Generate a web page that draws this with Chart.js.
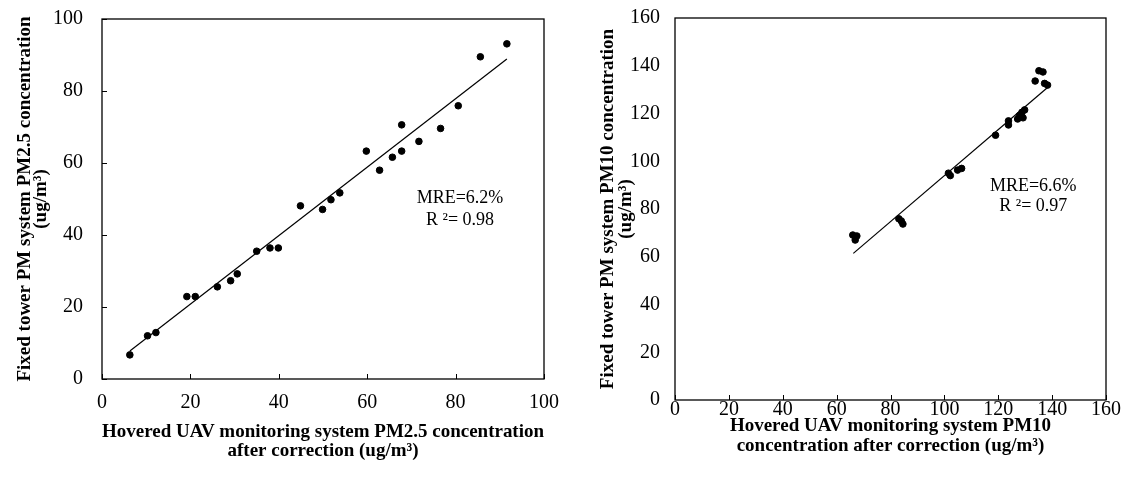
<!DOCTYPE html>
<html>
<head>
<meta charset="utf-8">
<script src="https://cdn.jsdelivr.net/npm/chart.js@4/dist/chart.umd.min.js"></script>
<style>
  body { margin: 0; background: #fff; }
  #wrap { position: relative; width: 1140px; height: 480px; }
  .box { position: absolute; top: 0; width: 570px; height: 480px; }
</style>
</head>
<body>
<div id="wrap">
  <div class="box" style="left:0"><canvas id="pm25"></canvas></div>
  <div class="box" style="left:570px"><canvas id="pm10"></canvas></div>
</div>
<script>
// --- data ---
const pm25X = [6.3, 10.3, 12.2, 19.2, 21.1, 26.1, 29.1, 30.6, 35.0, 38.0, 39.9, 44.9, 49.9, 51.8, 53.8,
  59.8, 62.8, 65.7, 67.8, 67.8, 71.7, 76.6, 80.6, 85.6, 91.6];
const pm25Y = [6.7, 12.0, 12.9, 22.9, 22.9, 25.6, 27.3, 29.2, 35.5, 36.4, 36.4, 48.1, 47.1, 49.8, 51.7,
  63.3, 58.0, 61.6, 63.3, 70.6, 66.0, 69.6, 75.9, 89.5, 93.1];
const pm25TrendX = [6.3, 91.6];
const pm25TrendY = [7.8, 88.9];

const pm10X = [66.0, 67.5, 66.9, 83.1, 84.0, 84.6, 101.5, 102.2, 104.9, 106.4, 119.0, 123.8, 123.8,
  127.2, 127.9, 128.8, 129.2, 129.8, 133.7, 135.1, 136.6, 137.2, 138.3];
const pm10Y = [69.1, 68.7, 67.0, 75.9, 75.0, 73.7, 95.0, 94.0, 96.3, 97.0, 110.9, 116.9, 115.2,
  117.7, 119.2, 120.5, 118.2, 121.5, 133.6, 137.9, 137.4, 132.6, 131.9];
const pm10TrendX = [66.2, 138.2];
const pm10TrendY = [61.4, 130.8];

const pm25Ticks = [0, 20, 40, 60, 80, 100];
const pm10Ticks = [0, 20, 40, 60, 80, 100, 120, 140, 160];

const SERIF = "'Liberation Serif', 'Times New Roman', serif";

function pts(xs, ys) {
  return xs.map((x, i) => ({ x: x, y: ys[i] }));
}

// frame, inward ticks and the MRE / R² text
const framePlugin = {
  id: 'frame',
  afterDraw(chart, args, opts) {
    const { ctx, chartArea: a, scales } = chart;
    ctx.save();
    ctx.strokeStyle = '#000';
    ctx.lineWidth = 1.3;
    ctx.strokeRect(a.left, a.top, a.right - a.left, a.bottom - a.top);

    ctx.lineWidth = 1;
    ctx.beginPath();
    if (opts.xTicks) {
      scales.x.ticks.forEach(t => {
        const px = Math.round(scales.x.getPixelForValue(t.value)) + 0.5;
        ctx.moveTo(px, a.bottom);
        ctx.lineTo(px, a.bottom - 5);
      });
    }
    if (opts.yTicks) {
      scales.y.ticks.forEach(t => {
        const py = Math.round(scales.y.getPixelForValue(t.value)) + 0.5;
        ctx.moveTo(a.left, py);
        ctx.lineTo(a.left + 5, py);
      });
    }
    ctx.stroke();

    ctx.fillStyle = '#000';
    ctx.font = '18px ' + SERIF;
    ctx.textAlign = 'center';
    ctx.textBaseline = 'middle';
    (opts.notes || []).forEach(n => {
      ctx.fillText(n.text, scales.x.getPixelForValue(n.x), scales.y.getPixelForValue(n.y));
    });
    ctx.restore();
  }
};

function makeChart(id, cfg) {
  return new Chart(document.getElementById(id), {
    type: 'scatter',
    data: {
      datasets: [
        {
          data: pts(cfg.xs, cfg.ys),
          backgroundColor: '#000',
          borderColor: '#000',
          pointRadius: 3.3,
          pointHoverRadius: 3.3
        },
        {
          type: 'line',
          data: pts(cfg.trendX, cfg.trendY),
          borderColor: '#000',
          borderWidth: 1.2,
          pointRadius: 0,
          fill: false
        }
      ]
    },
    options: {
      responsive: true,
      maintainAspectRatio: false,
      animation: false,
      layout: { padding: { top: cfg.top, right: cfg.right, left: 0, bottom: 0 } },
      plugins: {
        legend: { display: false },
        tooltip: { enabled: false },
        frame: { xTicks: true, yTicks: cfg.yTicks, notes: cfg.notes }
      },
      scales: {
        x: {
          type: 'linear',
          min: cfg.ticks[0],
          max: cfg.ticks[cfg.ticks.length - 1],
          afterBuildTicks: s => { s.ticks = cfg.ticks.map(v => ({ value: v })); },
          afterFit: s => { s.height = cfg.xAxisH; s.paddingLeft = 0; s.paddingRight = 0; },
          border: { display: false },
          grid: { display: false, drawTicks: false },
          ticks: { color: '#000', padding: cfg.xPad, font: { family: SERIF, size: 20 } },
          title: {
            display: true,
            text: cfg.xTitle,
            color: '#000',
            padding: { top: 0, bottom: cfg.xTitlePad },
            font: { family: SERIF, size: 19, weight: 'bold', lineHeight: cfg.xTitleLH }
          }
        },
        y: {
          type: 'linear',
          min: cfg.ticks[0],
          max: cfg.ticks[cfg.ticks.length - 1],
          afterBuildTicks: s => { s.ticks = cfg.ticks.map(v => ({ value: v })); },
          afterFit: s => { s.width = cfg.yAxisW; s.paddingTop = 0; s.paddingBottom = 0; },
          border: { display: false },
          grid: { display: false, drawTicks: false },
          ticks: { color: '#000', padding: cfg.yPad, font: { family: SERIF, size: 20 } },
          title: {
            display: true,
            text: cfg.yTitle,
            color: '#000',
            padding: { top: cfg.yTitlePad, bottom: 0 },
            font: { family: SERIF, size: 19, weight: 'bold', lineHeight: cfg.yTitleLH }
          }
        }
      }
    },
    plugins: [framePlugin]
  });
}

makeChart('pm25', {
  xs: pm25X, ys: pm25Y, trendX: pm25TrendX, trendY: pm25TrendY, ticks: pm25Ticks,
  top: 19, right: 26, yAxisW: 102, xAxisH: 101, xPad: 12, yPad: 19,
  xTitlePad: 19, xTitleLH: 1.02, yTitlePad: 17, yTitleLH: 0.84, yTicks: true,
  xTitle: ['Hovered UAV monitoring system PM2.5 concentration', 'after correction (ug/m³)'],
  yTitle: ['Fixed tower PM system PM2.5 concentration', '(ug/m³)'],
  notes: [{ text: 'MRE=6.2%', x: 81, y: 50.3 }, { text: 'R ²= 0.98', x: 81, y: 44.2 }]
});

makeChart('pm10', {
  xs: pm10X, ys: pm10Y, trendX: pm10TrendX, trendY: pm10TrendY, ticks: pm10Ticks,
  top: 18, right: 34, yAxisW: 105, xAxisH: 80, xPad: -2, yPad: 15,
  xTitlePad: 24, xTitleLH: 1.05, yTitlePad: 29.5, yTitleLH: 0.95, yTicks: false,
  xTitle: ['Hovered UAV monitoring system PM10', 'concentration after correction (ug/m³)'],
  yTitle: ['Fixed tower PM system PM10 concentration', '(ug/m³)'],
  notes: [{ text: 'MRE=6.6%', x: 133, y: 89.6 }, { text: 'R ²= 0.97', x: 133, y: 81.3 }]
});
</script>
</body>
</html>
